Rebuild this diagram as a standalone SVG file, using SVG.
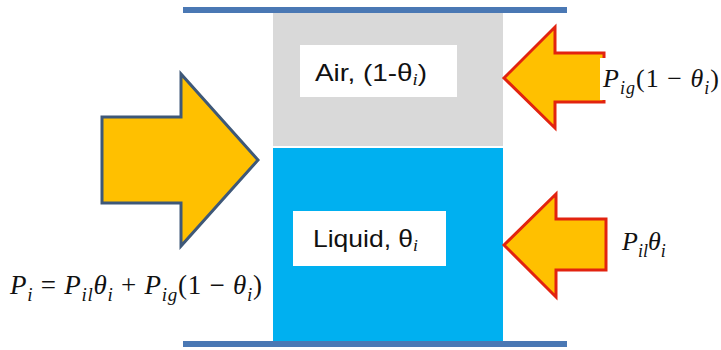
<svg xmlns="http://www.w3.org/2000/svg" width="721" height="350" viewBox="0 0 721 350">
<style>
.wall{stroke:#4A78B4;stroke-width:6}
.lbl{font-family:"Liberation Sans","Open Sans",sans-serif;fill:#111}
.math{font-family:"Liberation Serif",serif;font-style:italic;fill:#111}
.up{font-style:normal}
.ain{fill:#FFC000;stroke:#E2230F;stroke-width:3;stroke-linejoin:miter}
.big{fill:#FFC000;stroke:#3E5878;stroke-width:3}
</style>
<rect width="721" height="350" fill="#fff"/>
<g id="air">
<rect x="273" y="13" width="230" height="133" fill="#D9D9D9"/>
<rect x="300" y="45" width="157" height="52" fill="#fff"/>
<text class="lbl" x="315" y="81" font-size="24" textLength="112" lengthAdjust="spacingAndGlyphs">Air, (1-θ<tspan class="math" font-size="16" dy="4">i</tspan><tspan dy="-4">)</tspan></text>
</g>
<g id="liquid">
<rect x="273" y="148" width="230" height="193" fill="#00B0F0"/>
<rect x="293" y="211" width="153" height="55" fill="#fff"/>
<text class="lbl" x="313" y="247" font-size="24" textLength="105" lengthAdjust="spacingAndGlyphs">Liquid, θ<tspan class="math" font-size="16" dy="4">i</tspan></text>
</g>
<g id="walls">
<line class="wall" x1="183" y1="10" x2="567" y2="10"/>
<line class="wall" x1="183" y1="344" x2="567" y2="344"/>
</g>
<g id="connectors">
<polygon id="arrow-total" class="big" points="102,117 181,117 181,74 258,160 181,246 181,203 102,203"/>
<polygon id="arrow-gas" class="ain" points="504,78 555,27 555,53 604,53 604,102 555,102 555,128"/>
<polygon id="arrow-liq" class="ain" points="504,245 556,194 556,219 606,219 606,270 556,270 556,297"/>
</g>
<g id="label-gas">
<rect x="600" y="58" width="121" height="42" fill="#fff"/>
<text class="math" x="603" y="87" font-size="26" textLength="116" lengthAdjust="spacing">P<tspan font-size="18" dy="7">ig</tspan><tspan class="up" dy="-7">(1 − </tspan>θ<tspan font-size="18" dy="7">i</tspan><tspan class="up" dy="-7">)</tspan></text>
</g>
<g id="label-liq">
<text class="math" x="622" y="250" font-size="26">P<tspan font-size="18" dy="7">il</tspan><tspan dy="-7">θ</tspan><tspan font-size="18" dy="7">i</tspan></text>
</g>
<g id="label-total">
<text class="math" x="10" y="294" font-size="27" textLength="252" lengthAdjust="spacing">P<tspan font-size="19" dy="7">i</tspan><tspan class="up" dy="-7"> = </tspan>P<tspan font-size="19" dy="7">il</tspan><tspan dy="-7">θ</tspan><tspan font-size="19" dy="7">i</tspan><tspan class="up" dy="-7"> + </tspan>P<tspan font-size="19" dy="7">ig</tspan><tspan class="up" dy="-7">(1 − </tspan>θ<tspan font-size="19" dy="7">i</tspan><tspan class="up" dy="-7">)</tspan></text>
</g>
</svg>
